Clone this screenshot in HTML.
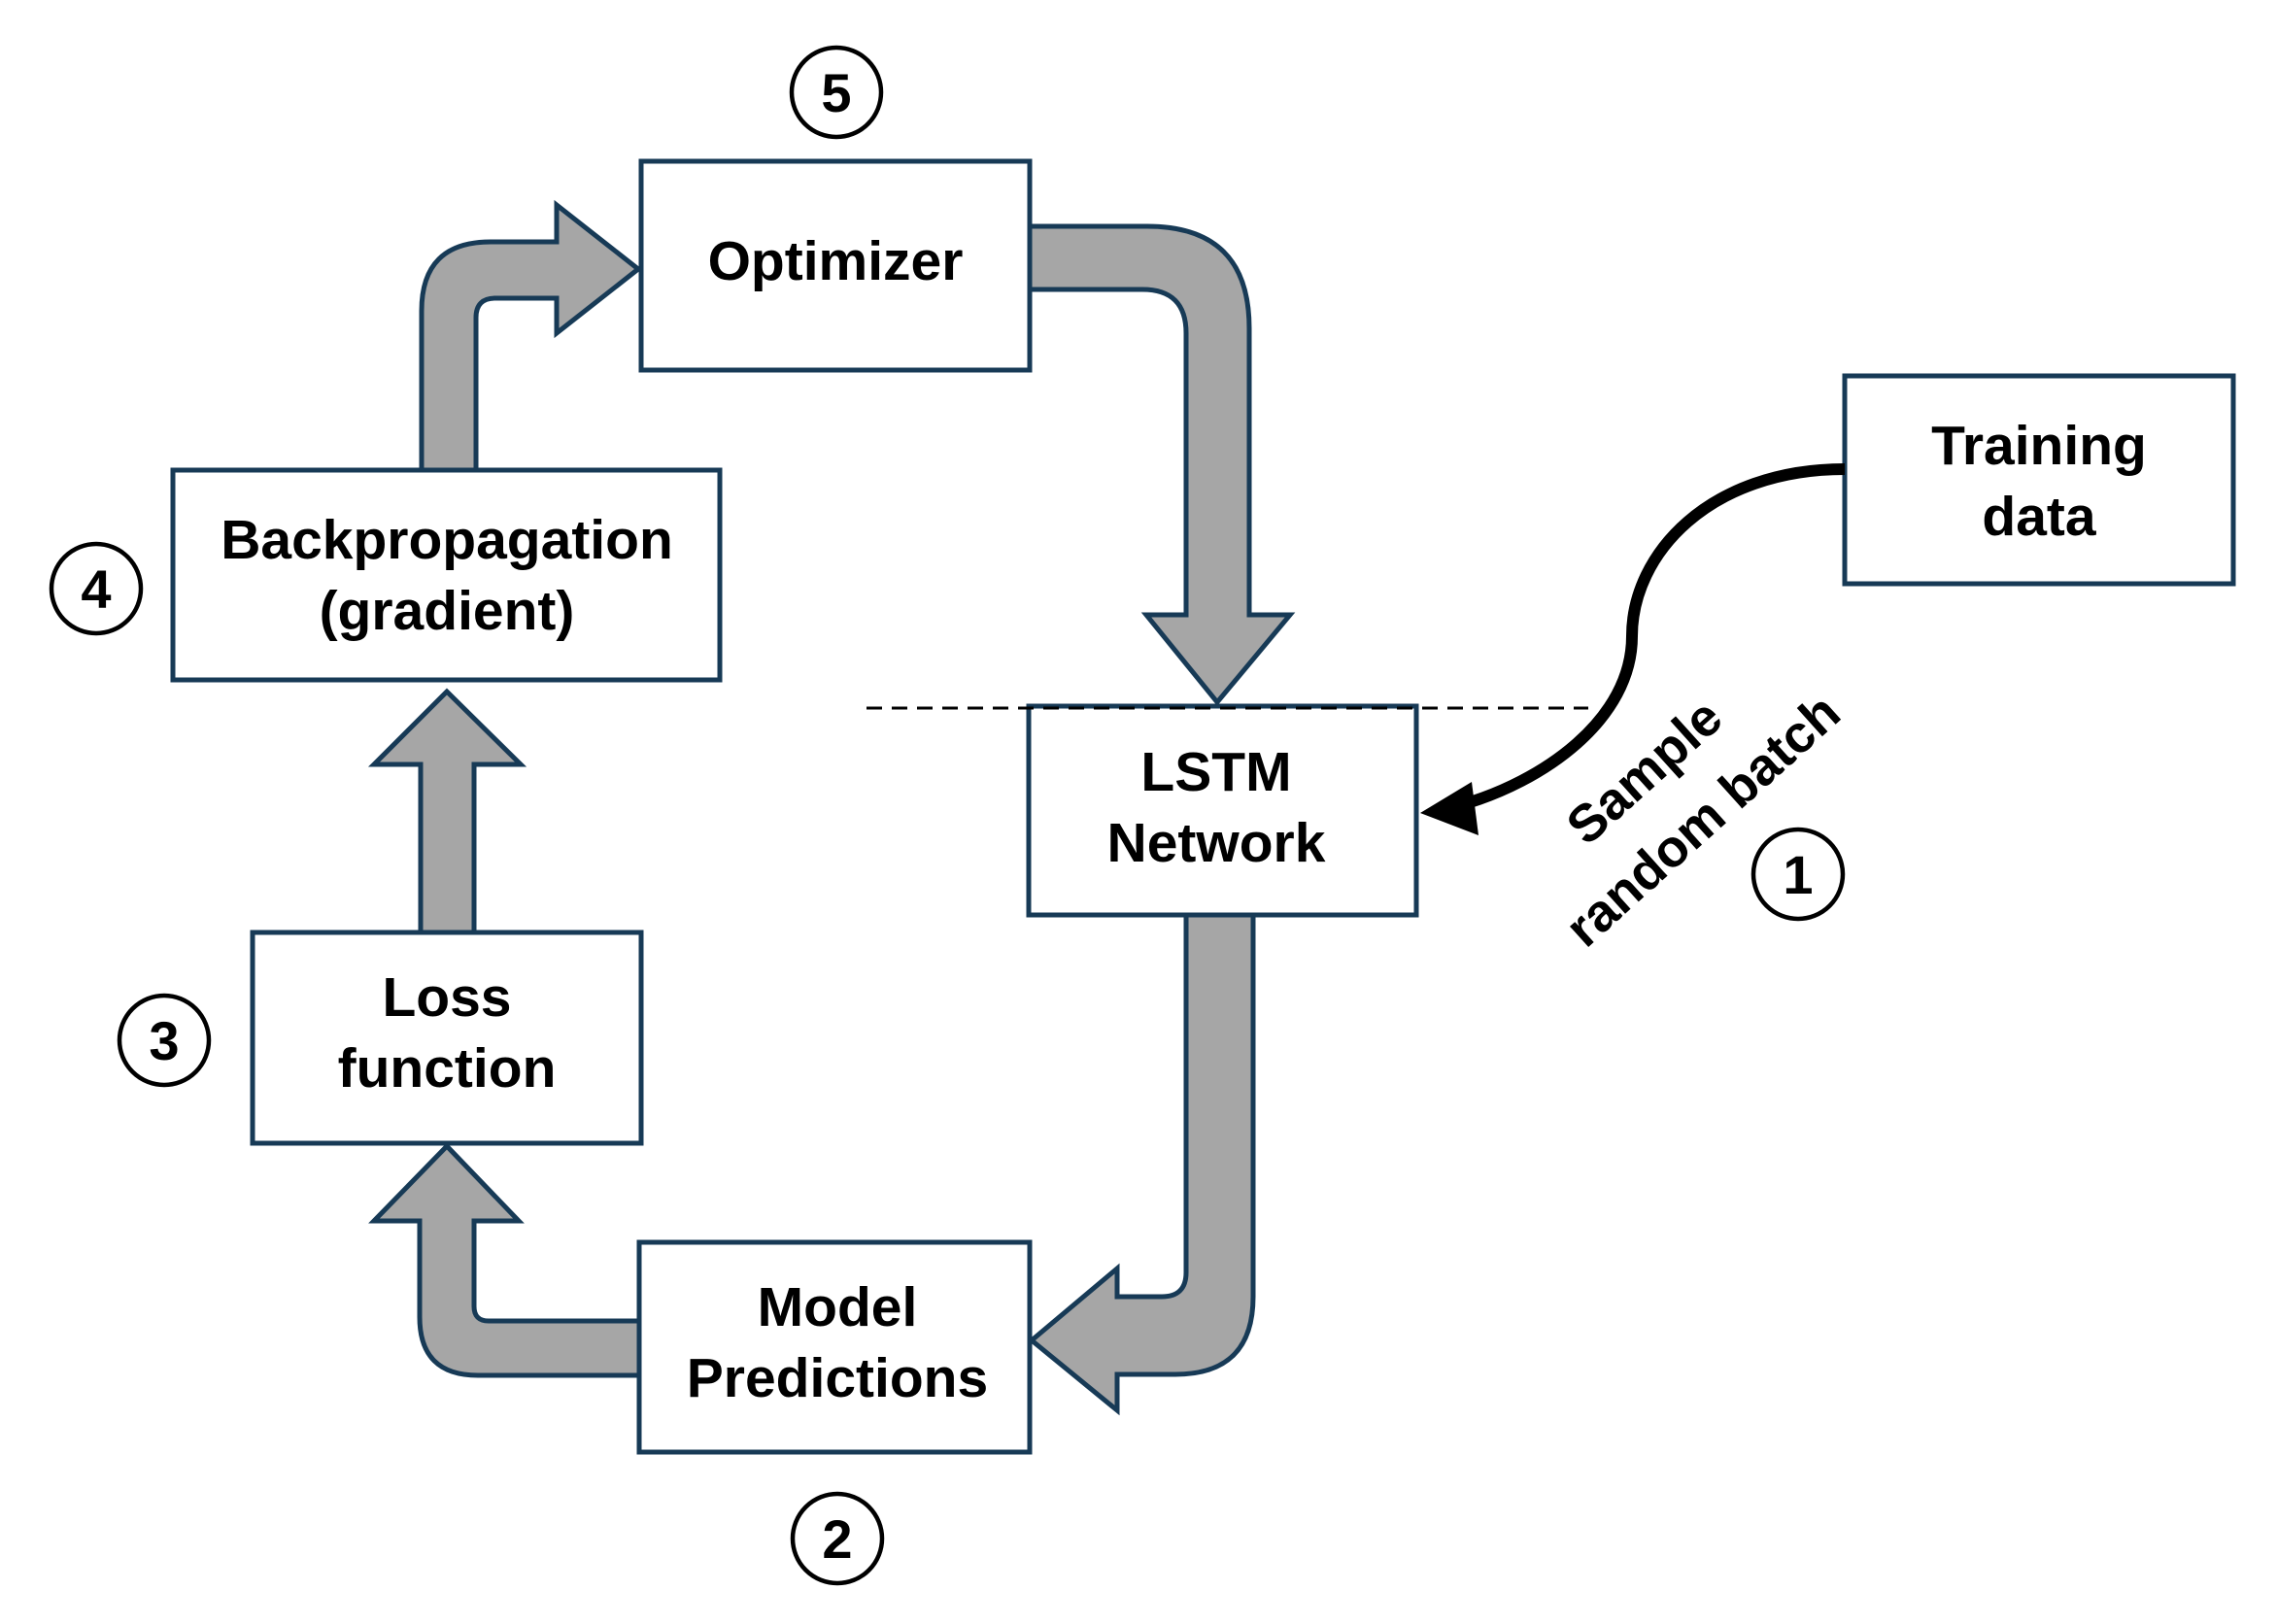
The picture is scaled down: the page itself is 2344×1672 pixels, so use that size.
<!DOCTYPE html>
<html><head><meta charset="utf-8"><style>
html,body{margin:0;padding:0;background:#fff;}
svg{display:block;}
text{font-family:"Liberation Sans",Arial,sans-serif;font-weight:bold;fill:#000;}
</style></head><body>
<svg width="2344" height="1672" viewBox="0 0 2344 1672" xmlns="http://www.w3.org/2000/svg">
<g fill="#a6a6a6" stroke="#173a56" stroke-width="5" stroke-linejoin="miter">
<!-- Backprop -> Optimizer -->
<path d="M434,484 L434,320 Q434,249 505,249 L573,249 L573,211 L657,277 L573,343 L573,307 L510,307 Q490,307 490,327 L490,484 Z"/>
<!-- Optimizer -> LSTM -->
<path d="M1060,233 L1181,233 Q1286,233 1286,338 L1286,633 L1328,633 L1253,723 L1180,633 L1221,633 L1221,343 Q1221,298 1176,298 L1060,298 Z"/>
<!-- LSTM -> Model -->
<path d="M1221,942 L1221,1310 Q1221,1335 1196,1335 L1150,1335 L1150,1306 L1062,1380 L1150,1452 L1150,1415 L1210,1415 Q1290,1415 1290,1335 L1290,942 Z"/>
<!-- Model -> Loss -->
<path d="M658,1360 L503,1360 Q488,1360 488,1345 L488,1257 L534,1257 L460,1180 L385,1257 L432,1257 L432,1356 Q432,1416 492,1416 L658,1416 Z"/>
<!-- Loss -> Backprop -->
<path d="M433,960 L433,787 L385,787 L460,712 L536,787 L488,787 L488,960 Z"/>
</g>
<g fill="#fff" stroke="#173a56" stroke-width="5">
<rect x="660" y="166" width="400" height="215"/>
<rect x="178" y="484" width="563" height="216"/>
<rect x="260" y="960" width="400" height="217"/>
<rect x="658" y="1279" width="402" height="216"/>
<rect x="1059" y="727" width="399" height="215"/>
<rect x="1899" y="387" width="400" height="214"/>
</g>
<line x1="892" y1="729" x2="1635" y2="729" stroke="#000" stroke-width="3" stroke-dasharray="16,10"/>
<path d="M1899,483 C1760,483 1680,570 1680,655 C1680,740 1590,805 1500,830" fill="none" stroke="#000" stroke-width="12"/>
<polygon points="1462,837 1515,805 1522,860" fill="#000"/>
<g font-size="57" text-anchor="middle">
<text x="860" y="288">Optimizer</text>
<text x="460" y="575">Backpropagation</text>
<text x="460" y="648">(gradient)</text>
<text x="460" y="1046">Loss</text>
<text x="460" y="1119">function</text>
<text x="862" y="1365">Model</text>
<text x="862" y="1438">Predictions</text>
<text x="1252" y="814">LSTM</text>
<text x="1252" y="887">Network</text>
<text x="2099" y="478">Training</text>
<text x="2099" y="551">data</text>
</g>
<g font-size="54" text-anchor="middle">
<text transform="translate(1705,808) rotate(-42)">Sample</text>
<text transform="translate(1765,858) rotate(-42)">random batch</text>
</g>
<g fill="#fff" stroke="#000" stroke-width="4.5">
<circle cx="861" cy="95" r="46"/>
<circle cx="99" cy="606" r="46"/>
<circle cx="169" cy="1071" r="46"/>
<circle cx="862" cy="1584" r="46"/>
<circle cx="1851" cy="900" r="46"/>
</g>
<g font-size="56" text-anchor="middle">
<text x="861" y="115">5</text>
<text x="99" y="626">4</text>
<text x="169" y="1091">3</text>
<text x="862" y="1604">2</text>
<text x="1851" y="920">1</text>
</g>
</svg>
</body></html>
